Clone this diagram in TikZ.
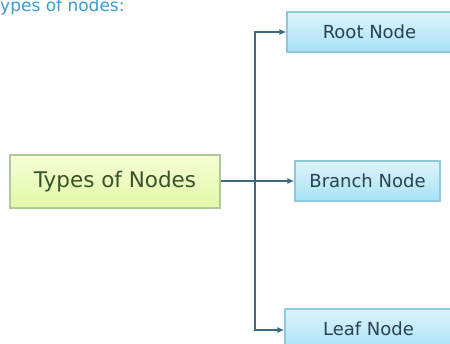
\documentclass[tikz,border=0pt]{standalone}
\usepackage{fontspec}
\setmainfont{DejaVu Sans}
\usetikzlibrary{arrows.meta}
\definecolor{linec}{HTML}{3D6A80}
\definecolor{bluetop}{HTML}{DDF4FB}
\definecolor{bluebot}{HTML}{A8E2F5}
\definecolor{blueedge}{HTML}{8FC9DC}
\definecolor{bluetext}{HTML}{2A4252}
\definecolor{greentop}{HTML}{F6FFD6}
\definecolor{greenbot}{HTML}{E2F8A6}
\definecolor{greenedge}{HTML}{B0C99A}
\definecolor{greentext}{HTML}{38522A}
\definecolor{titlec}{HTML}{3D9BD0}
\tikzset{
  bluebox/.style={draw=blueedge, line width=1.2pt, top color=bluetop, bottom color=bluebot,
    text=bluetext, font=\fontsize{18}{21}\selectfont, inner sep=0pt, minimum height=40pt},
  greenbox/.style={draw=greenedge, line width=1.2pt, top color=greentop, bottom color=greenbot,
    text=greentext, font=\fontsize{21.5}{25}\selectfont, inner sep=0pt, minimum width=210pt, minimum height=53pt},
  conn/.style={draw=linec, line width=1.7pt},
  arr/.style={conn, -{Latex[length=7pt,width=6pt]}}
}
\begin{document}
\begin{tikzpicture}[x=1pt,y=1pt]
\useasboundingbox (0,0) rectangle (450,344);
\clip (0,0) rectangle (450,344);
\fill[white] (0,0) rectangle (450,344);
\node[anchor=west, text=titlec, font=\fontsize{17}{19}\selectfont, inner sep=0pt] (title) at (0,337) {ypes of nodes:};
\node[greenbox] (types) at (115,162.5) {Types of Nodes};
\node[bluebox, minimum width=165pt] (root) at (369.5,312) {Root Node};
\node[bluebox, minimum width=145pt] (branch) at (367.5,163) {Branch Node};
\node[bluebox, minimum width=167pt] (leaf) at (368.5,15) {Leaf Node};
\coordinate (j) at (255,163);
\draw[conn] (types.east |- j) -- (j);
\draw[arr] (j) |- (root.west);
\draw[arr] (j) -- (branch.west);
\draw[arr] (j) |- ([yshift=-1pt]leaf.west);
\end{tikzpicture}
\end{document}
